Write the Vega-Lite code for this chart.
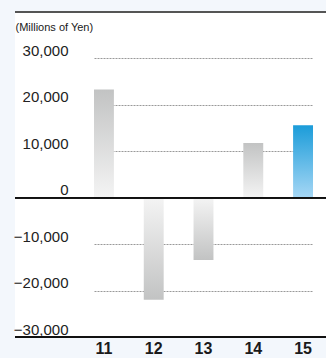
{
  "$schema": "https://vega.github.io/schema/vega-lite/v6.json",
  "width": 311,
  "height": 325,
  "autosize": {"type": "none"},
  "padding": {"left": 15, "top": 12, "right": 0, "bottom": 21},
  "background": "#f3f7fc",
  "config": {"view": {"fill": "white", "stroke": null}, "font": "Liberation Sans"},
  "data": {
    "values": [
      {"year": "11", "value": 23300, "group": "gray"},
      {"year": "12", "value": -22000, "group": "gray"},
      {"year": "13", "value": -13400, "group": "gray"},
      {"year": "14", "value": 11800, "group": "gray"},
      {"year": "15", "value": 15600, "group": "blue"}
    ]
  },
  "layer": [
    {
      "transform": [{"filter": "datum.group === 'gray' && datum.value > 0"}],
      "mark": {"type": "bar", "color": {"gradient": "linear", "x1": 0, "y1": 0, "x2": 0, "y2": 1, "stops": [{"offset": 0, "color": "#c2c3c3"}, {"offset": 1, "color": "#f4f4f4"}]}},
      "encoding": {
        "x": {
          "field": "year", "type": "ordinal", "sort": ["11", "12", "13", "14", "15"],
          "scale": {"domain": ["11", "12", "13", "14", "15"], "range": [79, 298], "paddingInner": 0.6, "paddingOuter": 0},
          "axis": {"title": null, "ticks": false, "domain": false, "grid": false, "labelAngle": 0, "labelFontSize": 16, "labelFontWeight": "bold", "labelColor": "#1a1a1a", "labelPadding": 3, "labelBaseline": "top"}
        },
        "y": {
          "field": "value", "type": "quantitative",
          "scale": {"domain": [-30000, 40000], "nice": false, "zero": false},
          "axis": {
            "values": [-30000, -20000, -10000, 0, 10000, 20000, 30000],
            "format": ",d",
            "title": "(Millions of Yen)", "titleAngle": 0, "titleAlign": "left", "titleBaseline": "alphabetic", "titleX": 0, "titleY": 18, "titleFontSize": 11, "titleFontWeight": "normal", "titleColor": "#1a1a1a",
            "ticks": false, "domain": false,
            "labelAlign": "right", "labelBaseline": "alphabetic", "labelPadding": -53, "labelOffset": -3, "labelFlush": false, "labelOverlap": false,
            "labelFontSize": 15, "labelColor": "#222222",
            "grid": true, "gridColor": "#999999", "gridDash": [2, 1], "gridWidth": 1
          }
        }
      }
    },
    {
      "transform": [{"filter": "datum.group === 'gray' && datum.value < 0"}],
      "mark": {"type": "bar", "color": {"gradient": "linear", "x1": 0, "y1": 0, "x2": 0, "y2": 1, "stops": [{"offset": 0, "color": "#f4f4f4"}, {"offset": 1, "color": "#c2c3c3"}]}},
      "encoding": {
        "x": {"field": "year", "type": "ordinal"},
        "y": {"field": "value", "type": "quantitative"}
      }
    },
    {
      "transform": [{"filter": "datum.group === 'blue'"}],
      "mark": {"type": "bar", "color": {"gradient": "linear", "x1": 0, "y1": 0, "x2": 0, "y2": 1, "stops": [{"offset": 0, "color": "#1b9cd9"}, {"offset": 1, "color": "#a6d7f5"}]}},
      "encoding": {
        "x": {"field": "year", "type": "ordinal"},
        "y": {"field": "value", "type": "quantitative"}
      }
    },
    {
      "mark": {"type": "rule", "color": "#111111", "strokeWidth": 1.5},
      "encoding": {"y": {"datum": 0, "type": "quantitative"}}
    },
    {
      "mark": {"type": "rule", "color": "#111111", "strokeWidth": 2},
      "encoding": {"y": {"datum": -30000, "type": "quantitative"}}
    },
    {
      "mark": {"type": "rule", "color": "#555555", "strokeWidth": 2},
      "encoding": {"y": {"datum": 40000, "type": "quantitative"}}
    }
  ]
}
